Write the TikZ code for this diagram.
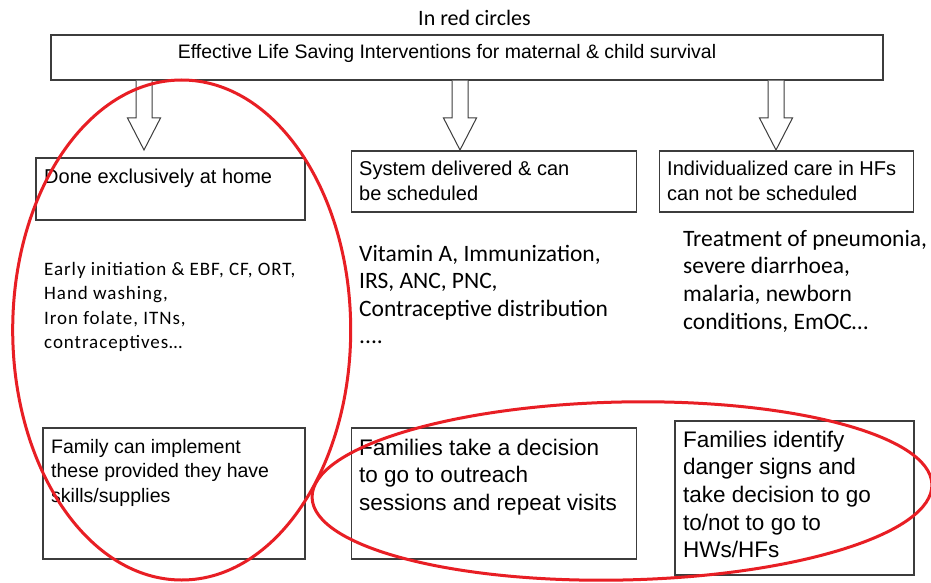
\documentclass[tikz,border=0pt]{standalone}
\usepackage{fontspec}
\setmainfont{Liberation Sans}
\newfontfamily\calfont{Carlito}
\newfontfamily\calspaced[LetterSpace=5]{Carlito}
\usetikzlibrary{calc}
\definecolor{boxline}{RGB}{60,60,60}
\definecolor{circred}{RGB}{232,30,36}
\newcommand\blockarrow[2]{%
  \draw[barrow] let \p1=(#1.south -| #2), \p2=(#2) in
   (\x1-8pt,\y1) -- (\x1-8pt,\y2+32pt) -- (\x1-16.5pt,\y2+32pt) -- (\x2,\y2)
   -- (\x1+16.5pt,\y2+32pt) -- (\x1+8pt,\y2+32pt) -- (\x1+8pt,\y1);}
\begin{document}
\begin{tikzpicture}[x=1pt,y=-1pt,
  box/.style={draw=boxline, line width=1.3pt, inner sep=0pt, fill=white},
  txt/.style={inner sep=0pt, align=left, anchor=base west, text=black},
  barrow/.style={draw=boxline, line width=1pt, fill=white, line join=miter},
  circ/.style={draw=circred, line width=3pt}]
\useasboundingbox (0,0) rectangle (931,583);
\fill[white] (0,0) rectangle (931,583);

% title
\node[inner sep=0pt, anchor=base, font=\calfont\fontsize{22}{26}\selectfont] (title) at (474.5,26) {In red circles};

% top box
\node[box, minimum width=832pt, minimum height=45pt] (top) at (467,57.5) {};
\node[inner sep=0pt, anchor=base, font=\fontsize{19.5}{23}\selectfont] (toptext) at (447,59) {Effective Life Saving Interventions for maternal \& child survival};

% middle row boxes
\node[box, minimum width=269pt, minimum height=62pt] (b1) at (170.5,189) {};
\node[box, minimum width=285pt, minimum height=61pt] (b2) at (493.75,181.5) {};
\node[box, minimum width=254pt, minimum height=61pt] (b3) at (786.5,181.5) {};

% (base anchor = baseline of the last line)
\node[txt, font=\fontsize{20}{25}\selectfont] (t1) at (44,183) {Done exclusively at home};
\node[txt, font=\fontsize{20}{25}\selectfont] (t2) at (359,200) {System delivered \& can\\be scheduled};
\node[txt, font=\fontsize{20}{25}\selectfont] (t3) at (667,200) {Individualized care in HFs\\can not be scheduled};

% block arrows
\coordinate (tip1) at (144,150);
\coordinate (tip2) at (460,150);
\coordinate (tip3) at (776,150);
\blockarrow{top}{tip1}
\blockarrow{top}{tip2}
\blockarrow{top}{tip3}

% lists
\node[txt, font=\calspaced\fontsize{19}{24.5}\selectfont] (l1) at (44,348.5) {Early initiation \& EBF, CF, ORT,\\Hand washing,\\Iron folate, ITNs,\\contraceptives…};
\node[txt, font=\calfont\fontsize{23.5}{27.2}\selectfont] (l2) at (359,343.3) {Vitamin A, Immunization,\\IRS, ANC, PNC,\\Contraceptive distribution\\....};
\node[txt, font=\calfont\fontsize{23.5}{27.7}\selectfont] (l3) at (683,329.1) {Treatment of pneumonia,\\severe diarrhoea,\\malaria, newborn\\conditions, EmOC…};

% bottom boxes
\node[box, minimum width=262pt, minimum height=131pt] (b4) at (174,493.5) {};
\node[box, minimum width=285pt, minimum height=131pt] (b5) at (493.75,493.5) {};
\node[box, minimum width=239pt, minimum height=154pt] (b6) at (794.5,498) {};

\node[txt, font=\fontsize{19.5}{24.5}\selectfont] (t4) at (51,502) {Family can implement\\these provided they have\\skills/supplies};
\node[txt, font=\fontsize{22.5}{27.5}\selectfont] (t5) at (359,510) {Families take a decision\\to go to outreach\\sessions and repeat visits};
\node[txt, font=\fontsize{22.5}{27.7}\selectfont] (t6) at (683,557.8) {Families identify\\danger signs and\\take decision to go\\to/not to go to\\HWs/HFs};

% red circles
\draw[circ] (181.7,330) ellipse [x radius=169, y radius=250];
\draw[circ, rotate around={1.2:(622,491)}] (622,491) ellipse [x radius=310, y radius=89];
\end{tikzpicture}
\end{document}
